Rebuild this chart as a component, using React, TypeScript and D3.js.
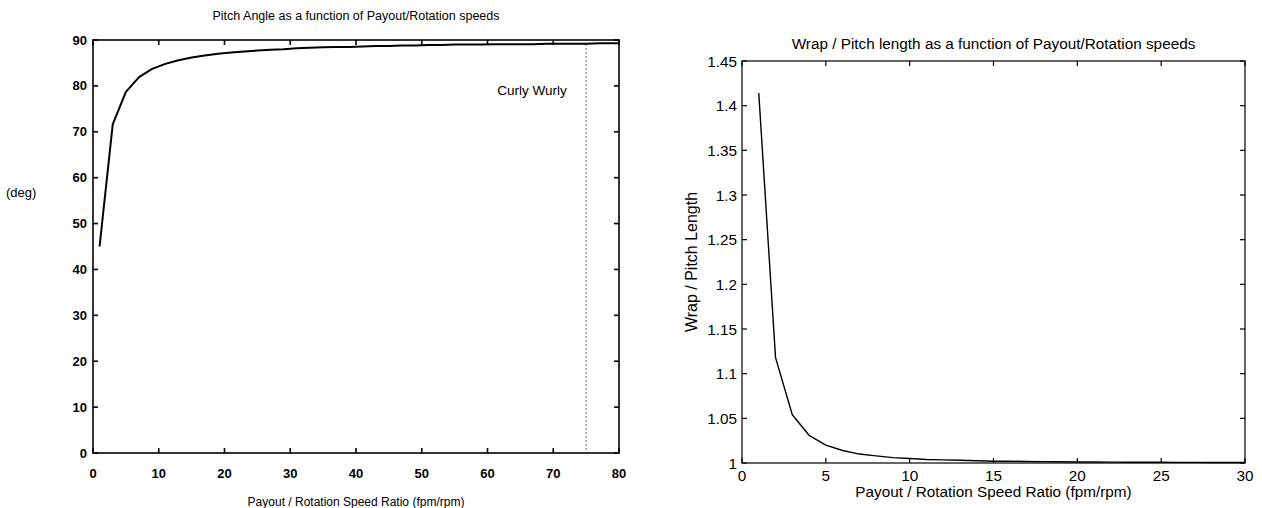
import React from 'react';
import * as d3 from 'd3';

// ---- Left chart data: pitch angle (deg) vs payout/rotation speed ratio ----
const pitchRatio = [1, 3, 5, 7, 9, 11, 13, 15, 17, 19, 21, 23, 25, 27, 29, 31, 33, 35, 37, 39, 41, 43, 45, 47, 49, 51, 53, 55, 57, 59, 61, 63, 65, 67, 69, 71, 73, 75, 77, 79, 80];
const pitchAngle = [45, 71.6, 78.7, 81.9, 83.7, 84.8, 85.6, 86.2, 86.6, 87.0, 87.3, 87.5, 87.7, 87.9, 88.0, 88.2, 88.3, 88.4, 88.5, 88.5, 88.6, 88.7, 88.7, 88.8, 88.8, 88.9, 88.9, 89.0, 89.0, 89.0, 89.1, 89.1, 89.1, 89.1, 89.2, 89.2, 89.2, 89.2, 89.3, 89.3, 89.3];
const pitchXTicks = [0, 10, 20, 30, 40, 50, 60, 70, 80];
const pitchYTicks = [0, 10, 20, 30, 40, 50, 60, 70, 80, 90];
const curlyWurlyRatio = 75;
const curlyWurlyLabel = { x: 61.5, y: 78, text: 'Curly Wurly' };

// ---- Right chart data: wrap / pitch length vs payout/rotation speed ratio ----
const wrapRatio = [1, 2, 3, 4, 5, 6, 7, 8, 9, 10, 11, 12, 13, 14, 15, 16, 17, 18, 19, 20, 21, 22, 23, 24, 25, 26, 27, 28, 29, 30];
const wrapLength = [1.414, 1.118, 1.054, 1.031, 1.020, 1.014, 1.010, 1.008, 1.006, 1.005, 1.004, 1.0035, 1.003, 1.0025, 1.002, 1.002, 1.0017, 1.0015, 1.0014, 1.0012, 1.0011, 1.001, 1.0009, 1.0009, 1.0008, 1.0007, 1.0007, 1.0006, 1.0006, 1.0006];
const wrapXTicks = [0, 5, 10, 15, 20, 25, 30];
const wrapYTicks = [1, 1.05, 1.1, 1.15, 1.2, 1.25, 1.3, 1.35, 1.4, 1.45];

const FONT = '"Liberation Sans", Arial, Helvetica, sans-serif';

function Frame({ x, y, xTicks, yTicks, tick, sw }: any) {
  const [x0, x1] = x.range();
  const [y0, y1] = y.range();
  return (
    <g stroke="#000" strokeWidth={sw} fill="none">
      <rect x={x0} y={y1} width={x1 - x0} height={y0 - y1} />
      {xTicks.map((t: number, i: number) => (
        <g key={'xt' + i}>
          <line x1={x(t)} x2={x(t)} y1={y0} y2={y0 - tick} />
          <line x1={x(t)} x2={x(t)} y1={y1} y2={y1 + tick} />
        </g>
      ))}
      {yTicks.map((t: number, i: number) => (
        <g key={'yt' + i}>
          <line x1={x0} x2={x0 + tick} y1={y(t)} y2={y(t)} />
          <line x1={x1} x2={x1 - tick} y1={y(t)} y2={y(t)} />
        </g>
      ))}
    </g>
  );
}

export default function App() {
  // left chart scales
  const lx = d3.scaleLinear().domain([0, 80]).range([93, 619]);
  const ly = d3.scaleLinear().domain([0, 90]).range([453, 40]);
  const lLine = d3.line<number>().x((_, i) => lx(pitchRatio[i])).y((d) => ly(d));

  // right chart scales
  const rx = d3.scaleLinear().domain([0, 30]).range([742, 1245]);
  const ry = d3.scaleLinear().domain([1, 1.45]).range([463, 61]);
  const rLine = d3.line<number>().x((_, i) => rx(wrapRatio[i])).y((d) => ry(d));

  return (
    <svg width={1262} height={508} style={{ position: 'absolute', left: 0, top: 0, background: '#fff' }} fontFamily={FONT}>
      <rect x={0} y={0} width={1262} height={508} fill="#fff" />

      {/* ===== Left chart ===== */}
      <text x={(lx(0) + lx(80)) / 2} y={20} textAnchor="middle" fontSize={12.5}>
        Pitch Angle as a function of Payout/Rotation speeds
      </text>
      <Frame x={lx} y={ly} xTicks={pitchXTicks} yTicks={pitchYTicks} tick={5} sw={1.6} />
      <line x1={lx(curlyWurlyRatio)} x2={lx(curlyWurlyRatio)} y1={ly(89)} y2={ly(0)} stroke="#000" strokeWidth={1.2} strokeDasharray="1,3" />
      <path d={lLine(pitchAngle) || ''} fill="none" stroke="#000" strokeWidth={2} strokeLinejoin="round" />
      <text x={lx(curlyWurlyLabel.x)} y={ly(curlyWurlyLabel.y)} fontSize={13.5}>{curlyWurlyLabel.text}</text>
      {pitchYTicks.map((t, i) => (
        <text key={'ly' + i} x={lx(0) - 6} y={ly(t) + 4.5} textAnchor="end" fontSize={13} fontWeight="bold">{t}</text>
      ))}
      {pitchXTicks.map((t, i) => (
        <text key={'lx' + i} x={lx(t)} y={478} textAnchor="middle" fontSize={13} fontWeight="bold">{t}</text>
      ))}
      <text x={6} y={197} fontSize={13}>(deg)</text>
      <text x={(lx(0) + lx(80)) / 2} y={506} textAnchor="middle" fontSize={12}>
        Payout / Rotation Speed Ratio (fpm/rpm)
      </text>

      {/* ===== Right chart ===== */}
      <text x={(rx(0) + rx(30)) / 2} y={49} textAnchor="middle" fontSize={15.3}>
        Wrap / Pitch length as a function of Payout/Rotation speeds
      </text>
      <Frame x={rx} y={ry} xTicks={wrapXTicks} yTicks={wrapYTicks} tick={5} sw={1.2} />
      <path d={rLine(wrapLength) || ''} fill="none" stroke="#000" strokeWidth={1.4} strokeLinejoin="round" />
      {wrapYTicks.map((t, i) => (
        <text key={'ry' + i} x={rx(0) - 5} y={ry(t) + 5.5} textAnchor="end" fontSize={15.3}>{String(t)}</text>
      ))}
      {wrapXTicks.map((t, i) => (
        <text key={'rx' + i} x={rx(t)} y={481} textAnchor="middle" fontSize={15.3}>{t}</text>
      ))}
      <text x={(rx(0) + rx(30)) / 2} y={497} textAnchor="middle" fontSize={15.3}>
        Payout / Rotation Speed Ratio (fpm/rpm)
      </text>
      <text transform={`translate(697,${(ry(1) + ry(1.45)) / 2}) rotate(-90)`} textAnchor="middle" fontSize={16}>
        Wrap / Pitch Length
      </text>
    </svg>
  );
}
